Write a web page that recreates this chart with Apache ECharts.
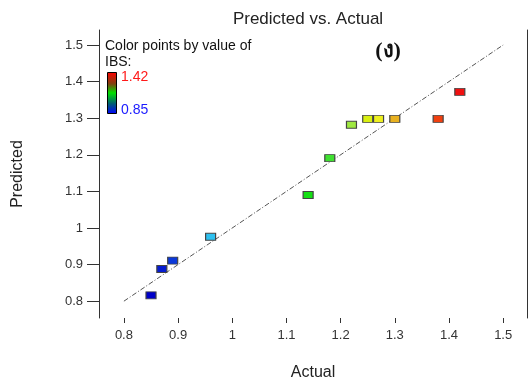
<!DOCTYPE html>
<html>
<head>
<meta charset="utf-8">
<script src="https://cdn.jsdelivr.net/npm/echarts@6/dist/echarts.min.js"></script>
<style>
  html, body { margin: 0; padding: 0; background: #fff; }
  #chart { width: 528px; height: 384px; }
</style>
</head>
<body>
<div id="chart"></div>
<script>
// Observed IBS values and model predictions
const actual    = [0.85, 0.87, 0.89, 0.96, 1.14, 1.18, 1.22, 1.25, 1.27, 1.30, 1.38, 1.42];
const predicted = [0.816, 0.888, 0.911, 0.976, 1.090, 1.191, 1.282, 1.298, 1.298, 1.298, 1.298, 1.372];
// Perfect-fit reference line endpoints
const fitLine = [0.8, 1.5];
// Axis tick values
const ticks = [0.8, 0.9, 1, 1.1, 1.2, 1.3, 1.4, 1.5];
// Colour scale limits
const ibsMin = 0.85;
const ibsMax = 1.42;

// Rainbow ramp used to colour points by IBS (position 0..1 -> colour)
const ramp = [
  [0.00, [0, 0, 200]],
  [0.10, [16, 80, 224]],
  [0.20, [48, 200, 240]],
  [0.35, [24, 216, 128]],
  [0.50, [16, 224, 16]],
  [0.58, [64, 224, 48]],
  [0.65, [160, 232, 64]],
  [0.70, [216, 240, 16]],
  [0.74, [240, 240, 32]],
  [0.79, [232, 176, 32]],
  [0.93, [240, 64, 16]],
  [1.00, [240, 16, 16]]
];
function colorFor(v) {
  const t = Math.max(0, Math.min(1, (v - ibsMin) / (ibsMax - ibsMin)));
  for (let i = 1; i < ramp.length; i++) {
    if (t <= ramp[i][0]) {
      const [t0, c0] = ramp[i - 1], [t1, c1] = ramp[i];
      const f = (t - t0) / (t1 - t0);
      const c = c0.map((x, k) => Math.round(x + (c1[k] - x) * f));
      return 'rgb(' + c.join(',') + ')';
    }
  }
  return 'rgb(' + ramp[ramp.length - 1][1].join(',') + ')';
}

const font = 'Liberation Sans, Arial, sans-serif';
const chart = echarts.init(document.getElementById('chart'), null, { renderer: 'canvas' });

const points = actual.map((a, i) => [a, predicted[i]]);

chart.setOption({
  animation: false,
  backgroundColor: '#ffffff',
  grid: { left: 99, right: 1, top: 30, bottom: 66, outerBoundsMode: 'none', containLabel: false },
  xAxis: {
    type: 'value',
    min: 0.754, max: 1.544,
    name: 'Actual',
    nameLocation: 'middle',
    nameGap: 47,
    nameTextStyle: { fontFamily: font, fontSize: 16, color: '#222' },
    axisLine: { show: false },
    axisTick: { show: true, length: 5, customValues: ticks, lineStyle: { color: '#333' } },
    axisLabel: { customValues: ticks, margin: 11, fontFamily: font, fontSize: 13, color: '#333',
                 formatter: v => String(+v.toFixed(1)) },
    splitLine: { show: false }
  },
  yAxis: [{
    type: 'value',
    min: 0.754, max: 1.541,
    name: 'Predicted',
    nameLocation: 'middle',
    nameGap: 73,
    nameTextStyle: { fontFamily: font, fontSize: 16, color: '#222' },
    axisLine: { show: true, onZero: false, lineStyle: { color: '#333' } },
    axisTick: { show: true, length: 12, customValues: ticks, lineStyle: { color: '#333' } },
    axisLabel: { customValues: ticks, margin: 16, fontFamily: font, fontSize: 13, color: '#333',
                 formatter: v => String(+v.toFixed(1)) },
    splitLine: { show: false }
  }, {
    type: 'value',
    position: 'right',
    min: 0.754, max: 1.541,
    axisLine: { show: true, onZero: false, lineStyle: { color: '#333' } },
    axisTick: { show: false },
    axisLabel: { show: false },
    splitLine: { show: false }
  }],
  series: [{
    type: 'line',
    data: [[fitLine[0], fitLine[0]], [fitLine[1], fitLine[1]]],
    symbol: 'none',
    silent: true,
    lineStyle: { color: '#555', width: 1, type: [5, 2, 1, 2] },
    z: 1
  }, {
    type: 'scatter',
    data: points,
    symbol: 'rect',
    symbolSize: [10, 7],
    itemStyle: {
      color: p => colorFor(p.value[0]),
      borderColor: '#444', borderWidth: 1, opacity: 1
    },
    z: 2
  }],
  graphic: [
    { type: 'text', x: 308, y: 19,
      style: { text: 'Predicted vs. Actual', font: '17px ' + font, fill: '#222',
               textAlign: 'center', textVerticalAlign: 'middle' } },
    { type: 'text', x: 105, y: 46,
      style: { text: 'Color points by value of', font: '14px ' + font, fill: '#111',
               textVerticalAlign: 'middle' } },
    { type: 'text', x: 105, y: 62,
      style: { text: 'IBS:', font: '14px ' + font, fill: '#111', textVerticalAlign: 'middle' } },
    { type: 'rect', shape: { x: 107.5, y: 72.5, width: 9, height: 41 },
      style: {
        stroke: '#000', lineWidth: 1,
        fill: new echarts.graphic.LinearGradient(0, 0, 0, 1, [
          { offset: 0, color: '#ff0000' },
          { offset: 0.28, color: '#804010' },
          { offset: 0.5, color: '#00e000' },
          { offset: 0.75, color: '#006070' },
          { offset: 1, color: '#0000ff' }
        ])
      } },
    { type: 'text', x: 121, y: 77,
      style: { text: String(ibsMax), font: '14px ' + font, fill: '#ff1a1a', textVerticalAlign: 'middle' } },
    { type: 'text', x: 121, y: 110,
      style: { text: String(ibsMin), font: '14px ' + font, fill: '#1a1aff', textVerticalAlign: 'middle' } },
    { type: 'text', x: 388, y: 51,
      style: { text: '(ง)', font: 'bold 22px "Liberation Serif", "DejaVu Serif", serif', fill: '#111',
               textAlign: 'center', textVerticalAlign: 'middle' } }
  ]
});
</script>
</body>
</html>
